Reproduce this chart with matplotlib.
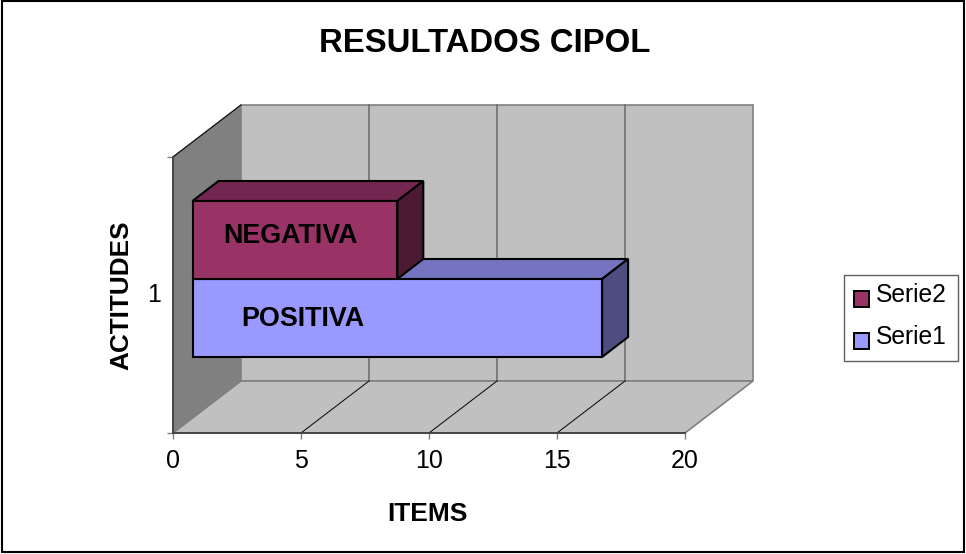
import matplotlib
matplotlib.use("Agg")
import matplotlib.pyplot as plt
from matplotlib.patches import Polygon, Rectangle

W, H = 966, 554

series = ["Serie1", "Serie2"]
valores = [16, 8]
etiquetas = ["POSITIVA", "NEGATIVA"]
colores = ["#9999FF", "#993366"]
colores_top = ["#7373BF", "#732650"]
colores_lado = ["#4D4D80", "#4D1A33"]
xticks = [0, 5, 10, 15, 20]

plt.rcParams["font.family"] = ["Liberation Sans", "DejaVu Sans"]

fig = plt.figure(figsize=(W / 100, H / 100), dpi=100)

# ejes de fondo en pixeles para el marco
bg = fig.add_axes([0, 0, 1, 1])
bg.set_xlim(0, W)
bg.set_ylim(H, 0)
bg.axis("off")
bg.add_patch(Rectangle((2, 1), 962, 551, fc="white", ec="black", lw=1.5))

# ejes del grafico: suelo frontal de 173 a 685, altura de 157 a 433
x0, x1, ytop, ybot = 173, 685, 157, 433
ax = fig.add_axes([x0 / W, 1 - ybot / H, (x1 - x0) / W, (ybot - ytop) / H])
ax.set_xlim(0, 20)
ax.set_ylim(0, 1)
ax.patch.set_visible(False)
for s in ["top", "right"]:
    ax.spines[s].set_visible(False)
for s in ["left", "bottom"]:
    ax.spines[s].set_color("#404040")
    ax.spines[s].set_linewidth(1.3)

sx = 20 / (x1 - x0)
sy = 1 / (ybot - ytop)
dx = 68 * sx   # profundidad total
dy = 52 * sy
gris = dict(ec="#808080", lw=1.2, clip_on=False, zorder=1)
kw = dict(ec="black", lw=1.5, clip_on=False, zorder=3, joinstyle="miter")

# paredes y suelo
ax.add_patch(Polygon([(0, 0), (0, 1), (dx, 1 + dy), (dx, dy)], fc="#808080", **gris))
ax.add_patch(Polygon([(dx, dy), (dx, 1 + dy), (20 + dx, 1 + dy), (20 + dx, dy)], fc="#C0C0C0", **gris))
ax.add_patch(Polygon([(0, 0), (dx, dy), (20 + dx, dy), (20, 0)], fc="#C0C0C0", **gris))
for t in xticks[1:-1]:
    ax.plot([t + dx, t + dx], [dy, 1 + dy], color="#707070", lw=1.2, clip_on=False, zorder=2)
    ax.plot([t, t + dx], [0, dy], color="black", lw=0.7, clip_on=False, zorder=2)
ax.plot([0, dx], [1, 1 + dy], color="black", lw=0.7, clip_on=False, zorder=2)

# barras
bx = 19.5 * sx    # hueco en el suelo
bd_x = 26 * sx    # profundidad de la barra
bd_y = 20 * sy
alto = 78 * sy
base = (433 - 357) * sy
for i, v in enumerate(valores):
    y = base + i * alto
    ax.add_patch(Polygon([(bx, y + alto), (bx + bd_x, y + alto + bd_y), (bx + v + bd_x, y + alto + bd_y), (bx + v, y + alto)],
                         fc=colores_top[i], **kw))
    ax.add_patch(Polygon([(bx + v, y), (bx + v + bd_x, y + bd_y), (bx + v + bd_x, y + alto + bd_y), (bx + v, y + alto)],
                         fc=colores_lado[i], **kw))
    ax.add_patch(Polygon([(bx, y), (bx + v, y), (bx + v, y + alto), (bx, y + alto)], fc=colores[i], **kw))

ax.text(5.06, (433 - 319) * sy, etiquetas[0], fontsize=19.4, fontweight="bold", ha="center", va="center", zorder=5)
ax.text(4.58, (433 - 236) * sy, etiquetas[1], fontsize=19.4, fontweight="bold", ha="center", va="center", zorder=5)

ax.set_xticks(xticks)
ax.set_xticklabels([str(t) for t in xticks], fontsize=18)
ax.tick_params(axis="x", length=4.5, width=1, color="#808080", pad=7)
ax.set_yticks([0, 1])
ax.set_yticklabels(["", ""])
ax.tick_params(axis="y", length=4.5, width=1, color="#808080")
ax.text(-0.75, 0.5, "1", fontsize=18, ha="center", va="center")

ax.text(9.94, (433 - 514) * sy, "ITEMS", fontsize=19, fontweight="bold", ha="center", va="center", clip_on=False)
ax.text(-2.0, 0.5, "ACTITUDES", fontsize=18.8, fontweight="bold", rotation=90, ha="center", va="center")

bg.text(485, 43, "RESULTADOS CIPOL", fontsize=23.7, fontweight="bold", ha="center", va="center")

# leyenda
bg.add_patch(Rectangle((844, 275), 114, 86, fc="white", ec="#606060", lw=1))
bg.add_patch(Rectangle((854, 291), 15, 16, fc=colores[1], ec="black", lw=1.4))
bg.add_patch(Rectangle((854, 333), 15, 16, fc=colores[0], ec="black", lw=1.4))
bg.text(876, 295, series[1], fontsize=17.7, va="center")
bg.text(876, 337, series[0], fontsize=17.7, va="center")

fig.savefig("out.png", dpi=100)
